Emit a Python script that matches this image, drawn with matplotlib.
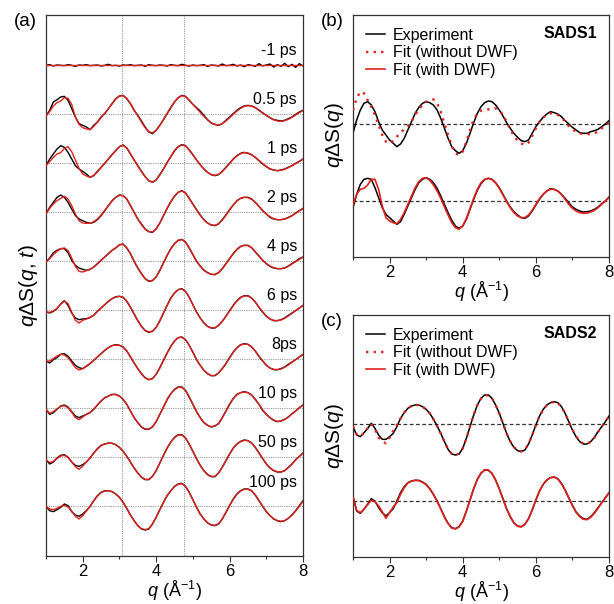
import numpy as np
import matplotlib
matplotlib.use("Agg")
import matplotlib.pyplot as plt
from matplotlib.ticker import MultipleLocator
import matplotlib.transforms as mtransforms

plt.rcParams['font.family'] = ['Liberation Sans', 'DejaVu Sans']
plt.rcParams['mathtext.fontset'] = 'custom'
plt.rcParams['mathtext.rm'] = 'Liberation Sans'
plt.rcParams['mathtext.it'] = 'Liberation Sans:italic'

# ---------------- data ----------------
q = np.round(np.arange(1.0, 8.001, 0.1), 1)

time_labels = ["-1 ps", "0.5 ps", "1 ps", "2 ps", "4 ps", "6 ps", "8ps", "10 ps", "50 ps", "100 ps"]

exp_m1 = [0, 2, -2, 1, 0, -1, 2, 0, -3, 1, 0, 2, -1, 0, 1, -2, 0, 3, -1, 0,
          -2, 1, 0, 2, -1, 0, 1, -3, 2, 0, -1, 1, 0, -2, 2, 0, -1, 3, 0, -2,
          1, -1, 0, 2, -3, 1, 0, -2, 4, -1, 0, 3, -2, 1, -4, 2, 0, -3, 5, -2,
          1, 4, -5, 2, -3, 6, -4, 3, -6, 5, -2]
fit_m1 = [0] * 71

exp_05 = [-5, 12, 37, 44, 52, 54, 42, 17, -8, -28,
          -33, -38, -46, -33, -23, -8, 2, 17, 32, 47,
          55, 57, 47, 32, 12, -3, -20, -38, -53, -58,
          -48, -33, -16, 2, 20, 37, 50, 57, 54, 42,
          30, 20, 10, -3, -16, -26, -30, -33, -28, -18,
          -8, 2, 12, 20, 25, 27, 25, 20, 12, 4,
          -3, -10, -16, -18, -20, -18, -13, -8, 0, 7, 12]
fit_05 = [-5, 8, 25, 35, 40, 50, 48, 30, -8, -30,
          -40, -44, -46, -36, -24, -10, 3, 17, 32, 46,
          55, 56, 48, 32, 13, -5, -23, -40, -52, -56,
          -48, -33, -15, 3, 21, 38, 50, 56, 53, 43,
          30, 18, 6, -6, -17, -26, -31, -32, -28, -20,
          -10, 0, 10, 18, 24, 26, 25, 20, 13, 5,
          -3, -10, -16, -20, -21, -19, -15, -9, -2, 5, 11]

exp_1 = [-7, 13, 28, 43, 53, 48, 33, 13, -7, -17,
         -24, -32, -42, -37, -24, -12, 0, 13, 26, 38,
         50, 55, 46, 28, 10, -7, -24, -40, -52, -57,
         -50, -34, -17, 3, 20, 38, 50, 56, 53, 40,
         26, 10, -4, -17, -27, -34, -37, -34, -24, -12,
         0, 13, 23, 30, 33, 30, 26, 18, 8, -2,
         -10, -17, -20, -22, -20, -17, -12, -7, 0, 6, 13]
fit_1 = [-7, 5, 18, 28, 32, 45, 50, 35, 10, -15,
         -32, -38, -42, -36, -26, -13, 0, 13, 26, 39,
         50, 54, 46, 29, 10, -8, -25, -40, -52, -56,
         -50, -35, -17, 2, 20, 37, 50, 55, 52, 41,
         26, 10, -4, -17, -27, -34, -36, -33, -25, -13,
         0, 12, 22, 29, 32, 31, 26, 18, 9, -1,
         -9, -16, -20, -22, -21, -18, -13, -7, -1, 6, 12]

exp_2 = [-5, 15, 30, 45, 52, 45, 30, 10, -10, -20,
         -25, -30, -33, -30, -22, -10, 5, 20, 35, 45,
         52, 50, 40, 20, 0, -20, -35, -50, -58, -60,
         -50, -32, -10, 12, 32, 48, 60, 65, 58, 42,
         25, 8, -8, -22, -32, -38, -40, -35, -22, -8,
         8, 22, 35, 42, 45, 45, 40, 30, 18, 5,
         -5, -15, -20, -22, -22, -20, -15, -10, -2, 5, 12]
fit_2 = [-5, 12, 25, 35, 42, 48, 40, 20, -5, -25,
         -32, -33, -33, -28, -20, -8, 6, 20, 34, 45,
         51, 50, 40, 21, 0, -20, -37, -51, -58, -59,
         -50, -32, -10, 12, 32, 49, 60, 64, 58, 42,
         24, 7, -9, -22, -32, -38, -39, -34, -23, -9,
         7, 22, 34, 42, 45, 44, 39, 30, 18, 6,
         -5, -13, -19, -22, -22, -20, -16, -10, -3, 4, 11]

exp_4 = [-2, 10, 26, 33, 38, 38, 26, 3, -12, -20,
         -24, -27, -24, -17, -7, 3, 13, 23, 33, 40,
         50, 52, 40, 23, 0, -20, -37, -52, -60, -58,
         -47, -27, -4, 18, 38, 53, 63, 66, 58, 40,
         20, 0, -14, -27, -34, -39, -40, -34, -22, -7,
         8, 23, 36, 45, 48, 48, 41, 28, 16, 3,
         -7, -15, -20, -22, -22, -20, -14, -7, 0, 8, 13]
fit_4 = [-2, 8, 20, 30, 38, 40, 32, 10, -15, -30,
         -32, -28, -24, -17, -8, 3, 13, 23, 33, 41,
         49, 51, 41, 23, 1, -20, -38, -52, -59, -57,
         -47, -28, -5, 18, 38, 53, 63, 65, 58, 41,
         21, 1, -14, -26, -34, -39, -39, -34, -23, -8,
         8, 23, 35, 44, 48, 47, 41, 29, 16, 4,
         -6, -14, -19, -22, -22, -20, -15, -8, -1, 6, 12]

exp_6 = [-5, -8, -3, 5, 19, 29, 15, -8, -23, -28,
         -26, -25, -21, -15, -3, 7, 17, 27, 35, 41,
         42, 39, 27, 9, -11, -31, -48, -61, -66, -63,
         -51, -31, -8, 15, 37, 52, 62, 65, 57, 39,
         17, -5, -23, -38, -48, -53, -53, -45, -33, -18,
         -1, 15, 29, 39, 44, 44, 37, 25, 9, -5,
         -18, -26, -31, -31, -28, -23, -15, -8, -1, 7, 15]
fit_6 = [-5, -6, -2, 6, 18, 28, 20, -5, -30, -38,
         -30, -26, -22, -14, -3, 7, 17, 27, 35, 40,
         42, 39, 28, 10, -11, -31, -48, -60, -65, -62,
         -51, -32, -8, 15, 36, 52, 62, 64, 57, 40,
         17, -5, -23, -38, -48, -53, -52, -45, -33, -18,
         -2, 14, 28, 38, 43, 43, 37, 25, 10, -4,
         -17, -26, -30, -31, -29, -24, -17, -9, -1, 7, 14]

exp_8 = [-5, -11, -1, 5, 15, 17, 9, -5, -18, -25,
         -28, -21, -13, -3, 7, 17, 27, 35, 41, 44,
         42, 37, 25, 7, -11, -28, -43, -55, -61, -58,
         -45, -25, -3, 19, 39, 55, 65, 67, 59, 42,
         22, -1, -18, -33, -43, -49, -49, -41, -28, -13,
         5, 22, 35, 44, 47, 45, 37, 25, 9, -5,
         -18, -26, -31, -31, -28, -23, -15, -8, -1, 7, 15]
fit_8 = [-5, -5, 2, 10, 15, 13, 5, -10, -25, -32,
         -28, -20, -12, -3, 7, 17, 27, 35, 41, 43,
         42, 37, 25, 8, -11, -28, -44, -56, -61, -58,
         -45, -26, -3, 19, 39, 55, 65, 66, 59, 42,
         21, -1, -18, -33, -43, -49, -48, -41, -28, -13,
         4, 21, 34, 43, 46, 45, 38, 25, 10, -4,
         -17, -26, -30, -31, -29, -24, -17, -9, -1, 7, 14]

exp_10 = [-3, -18, -13, -3, 7, 10, 4, -10, -23, -28,
          -23, -18, -13, -3, 10, 22, 32, 37, 42, 42,
          37, 27, 12, -8, -28, -43, -56, -63, -63, -56,
          -40, -18, 4, 27, 44, 57, 64, 64, 54, 34,
          12, -10, -28, -43, -51, -56, -53, -46, -28, -8,
          12, 30, 42, 47, 50, 47, 40, 27, 12, -6,
          -18, -28, -36, -40, -38, -33, -26, -16, -8, 2, 10]
fit_10 = [-3, -15, -10, -2, 6, 8, 2, -12, -28, -34,
          -26, -18, -12, -2, 10, 22, 31, 37, 41, 41,
          37, 27, 12, -8, -27, -43, -56, -62, -62, -55,
          -40, -18, 4, 26, 44, 56, 63, 63, 54, 35,
          12, -10, -28, -42, -51, -55, -53, -45, -29, -9,
          11, 29, 41, 47, 49, 47, 40, 27, 12, -4,
          -18, -28, -35, -39, -38, -34, -26, -17, -8, 1, 10]

exp_50 = [-7, -20, -14, -2, 6, 8, 0, -14, -24, -27,
          -22, -14, -2, 13, 26, 36, 40, 43, 42, 38,
          30, 18, 3, -14, -32, -47, -60, -67, -67, -57,
          -40, -17, 6, 28, 46, 60, 68, 68, 58, 40,
          18, -4, -24, -40, -52, -58, -58, -47, -30, -10,
          10, 28, 40, 48, 52, 50, 43, 30, 13, -4,
          -20, -32, -40, -44, -44, -40, -30, -20, -7, 3, 13]
fit_50 = [-7, -16, -12, -4, 4, 6, 0, -14, -28, -36,
          -26, -14, -2, 12, 25, 35, 40, 42, 42, 38,
          30, 18, 3, -14, -32, -47, -59, -66, -66, -57,
          -40, -17, 6, 28, 46, 59, 67, 67, 58, 40,
          18, -4, -24, -40, -51, -57, -57, -47, -30, -10,
          10, 27, 40, 47, 51, 50, 43, 30, 14, -3,
          -19, -31, -39, -43, -44, -40, -31, -20, -8, 3, 12]

exp_100 = [0, -13, -16, -10, -3, 7, 2, -16, -26, -30,
           -23, -13, 0, 17, 32, 42, 47, 47, 44, 37,
           27, 12, -6, -26, -43, -58, -68, -71, -68, -53,
           -33, -10, 12, 32, 47, 60, 67, 69, 60, 42,
           20, -3, -23, -38, -50, -56, -58, -53, -38, -18,
           2, 22, 37, 47, 52, 52, 47, 34, 17, 0,
           -16, -28, -38, -43, -46, -43, -36, -26, -13, 2, 17]
fit_100 = [0, -8, -10, -6, 0, 3, -2, -14, -30, -38,
           -28, -14, 0, 16, 31, 41, 46, 47, 44, 37,
           27, 12, -6, -26, -43, -58, -67, -70, -67, -53,
           -33, -10, 12, 32, 47, 59, 66, 68, 60, 42,
           20, -3, -23, -38, -49, -56, -57, -52, -38, -19,
           2, 21, 36, 46, 51, 51, 46, 34, 18, 1,
           -15, -28, -37, -43, -45, -43, -36, -26, -14, 0, 15]

exp_series = [exp_m1, exp_05, exp_1, exp_2, exp_4, exp_6, exp_8, exp_10, exp_50, exp_100]
fit_series = [fit_m1, fit_05, fit_1, fit_2, fit_4, fit_6, fit_8, fit_10, fit_50, fit_100]

# SADS1 (panel b)
sads1_exp_top = [-27, 13, 43, 63, 68, 58, 38, 8, -17, -32,
                 -47, -57, -67, -59, -42, -17, 8, 33, 51, 63,
                 68, 65, 58, 43, 18, -12, -42, -67, -79, -87,
                 -79, -57, -27, 5, 33, 53, 65, 70, 68, 58,
                 43, 25, 5, -12, -27, -39, -49, -52, -47, -27,
                 -7, 8, 21, 31, 38, 35, 31, 23, 11, 1,
                 -9, -17, -25, -27, -27, -22, -19, -15, -7, 1, 11]
sads1_fit_noDWF = [43, 78, 98, 93, 73, 53, 28, -2, -32, -52,
                   -57, -49, -37, -25, -15, -5, 8, 28, 45, 58,
                   68, 73, 75, 63, 38, 3, -32, -65, -87, -92,
                   -82, -52, -17, 15, 33, 41, 43, 45, 45, 48,
                   43, 28, 8, -15, -35, -49, -57, -62, -55, -35,
                   -12, 8, 21, 28, 33, 33, 28, 21, 8, -5,
                   -15, -22, -27, -29, -30, -29, -27, -22, -12, -5, 5]
sads1_exp_bot = [-20, 20, 50, 65, 68, 65, 40, 10, -20, -40,
                 -50, -60, -70, -62, -40, -15, 10, 35, 55, 65,
                 70, 65, 55, 38, 15, -10, -35, -58, -75, -82,
                 -75, -55, -25, 5, 32, 52, 64, 68, 65, 55,
                 40, 20, 0, -18, -32, -42, -50, -52, -45, -30,
                 -12, 5, 20, 30, 37, 35, 30, 20, 8, -5,
                 -18, -25, -30, -33, -32, -30, -25, -18, -8, 0, 12]
sads1_fit_DWF = [-10, 20, 35, 38, 48, 65, 65, 35, -15, -50,
                 -60, -65, -68, -55, -35, -10, 15, 40, 58, 68,
                 70, 62, 48, 30, 8, -18, -42, -65, -80, -85,
                 -75, -52, -22, 8, 35, 55, 65, 68, 64, 54,
                 38, 18, -2, -20, -35, -45, -50, -50, -42, -28,
                 -10, 7, 20, 30, 35, 35, 30, 20, 5, -10,
                 -22, -30, -35, -37, -36, -33, -28, -20, -10, 0, 10]

# SADS2 (panel c)
sads2_exp_top = [-7, -32, -37, -25, -12, 3, -12, -32, -45, -45,
                 -37, -27, -7, 18, 35, 48, 55, 58, 58, 53,
                 45, 33, 15, -5, -27, -52, -75, -89, -92, -89,
                 -72, -42, -7, 28, 58, 78, 88, 88, 78, 58,
                 33, 3, -27, -52, -69, -79, -82, -77, -59, -32,
                 -2, 25, 45, 58, 65, 68, 65, 53, 33, 8,
                 -17, -37, -52, -59, -59, -52, -39, -22, -7, 8, 25]
sads2_fit_noDWF = [-5, -30, -36, -26, -12, 2, -15, -40, -50, -57,
                   -40, -20, -2, 18, 35, 48, 55, 58, 58, 53,
                   45, 33, 15, -5, -27, -52, -74, -88, -91, -88,
                   -72, -42, -7, 28, 57, 77, 87, 87, 78, 58,
                   33, 3, -27, -51, -68, -78, -81, -76, -59, -32,
                   -3, 24, 44, 57, 65, 67, 64, 53, 33, 9,
                   -16, -36, -51, -58, -58, -52, -40, -23, -7, 8, 24]
sads2_exp_bot = [15, -30, -37, -25, -10, 7, 0, -20, -35, -45,
                 -35, -23, 0, 25, 43, 55, 60, 62, 62, 57,
                 50, 37, 20, 0, -23, -47, -67, -80, -83, -77,
                 -60, -30, 3, 37, 65, 83, 93, 92, 83, 63,
                 37, 7, -23, -47, -65, -75, -77, -70, -53, -27,
                 3, 30, 50, 63, 70, 72, 67, 53, 33, 10,
                 -13, -33, -45, -53, -55, -47, -35, -20, -5, 10, 25]
sads2_fit_DWF = [10, -28, -35, -25, -10, 2, -2, -15, -32, -52,
                 -35, -18, -5, 20, 40, 54, 60, 62, 61, 56,
                 49, 36, 19, -1, -24, -48, -68, -81, -84, -78,
                 -61, -31, 3, 37, 65, 84, 94, 93, 83, 62,
                 36, 6, -24, -48, -66, -76, -78, -70, -53, -27,
                 3, 30, 50, 63, 70, 72, 66, 52, 32, 9,
                 -14, -34, -47, -55, -56, -49, -37, -22, -6, 9, 24]

x_ticks = [2, 4, 6, 8]
guide_q = [3.07, 4.76]

# ---------------- style / layout ----------------
RED = '#e3201b'
GRID = '#9a9a9a'
SPINE = '#333333'
step_a = 147
step_bc = 230

fig = plt.figure(figsize=(6.14, 6.04), dpi=100)
W, H = 614, 604


def add_axes(l, t, r, b):
    return fig.add_axes([l / W, 1 - b / H, (r - l) / W, (b - t) / H])


def style_axis(ax):
    ax.set_xlim(1, 8)
    ax.set_xticks(x_ticks)
    ax.xaxis.set_minor_locator(MultipleLocator(1))
    ax.set_yticks([])
    ax.tick_params(axis='x', which='major', direction='out', length=4, width=0.8,
                   labelsize=12, pad=2, color=SPINE)
    ax.tick_params(axis='x', which='minor', direction='out', length=2.5, width=0.8, color=SPINE)
    for s in ax.spines.values():
        s.set_color(SPINE)
        s.set_linewidth(0.9)
    ax.set_xlabel(r'$q$ (Å$^{-1}$)', fontsize=13, labelpad=0)


# Panel (a)
axa = add_axes(46, 15, 303, 556)
style_axis(axa)
axa.set_ylim(-1472, 151)
for gq in guide_q:
    axa.axvline(gq, color=GRID, lw=0.8, ls=(0, (1, 1)), zorder=1)
trans = mtransforms.blended_transform_factory(axa.transAxes, axa.transData)
for i, (lab, e, f) in enumerate(zip(time_labels, exp_series, fit_series)):
    off = -i * step_a
    axa.axhline(off, color=GRID, lw=0.8, ls=(0, (1, 1)), zorder=1)
    axa.plot(q, np.array(e) + off, color='black', lw=1.0, zorder=2)
    axa.plot(q, np.array(f) + off, color=RED, lw=1.0, zorder=3)
    dy = 72 if lab == "100 ps" else 45
    axa.text(0.977, off + dy, lab, transform=trans, ha='right', va='center', fontsize=11.5)


def panel_bc(ax, exp_top, fit_nodwf, exp_bot, fit_dwf, title):
    style_axis(ax)
    ax.set_ylim(-398, 328)
    for off in (0, -step_bc):
        ax.axhline(off, color='#333333', lw=0.9, ls=(0, (3, 2)), zorder=1)
    ax.plot(q, np.array(exp_top), color='black', lw=1.1, label='Experiment', zorder=2)
    ax.plot(q, np.array(fit_nodwf), color=RED, lw=1.7, ls=(0, (1, 2.2)),
            label='Fit (without DWF)', zorder=3)
    ax.plot(q, np.array(exp_bot) - step_bc, color='black', lw=1.1, zorder=2)
    ax.plot(q, np.array(fit_dwf) - step_bc, color=RED, lw=1.2, label='Fit (with DWF)', zorder=3)
    ax.legend(loc='upper left', bbox_to_anchor=(0.0, 1.0), frameon=False, fontsize=11.5,
              handlelength=1.2, handletextpad=0.5, labelspacing=0.15, borderaxespad=0.35,
              borderpad=0.45)
    ax.text(0.955, 0.925, title, transform=ax.transAxes, ha='right', va='center',
            fontsize=11.5, fontweight='bold')


axb = add_axes(353, 15, 609, 257)
panel_bc(axb, sads1_exp_top, sads1_fit_noDWF, sads1_exp_bot, sads1_fit_DWF, 'SADS1')
axc = add_axes(353, 315, 609, 557)
panel_bc(axc, sads2_exp_top, sads2_fit_noDWF, sads2_exp_bot, sads2_fit_DWF, 'SADS2')

# labels
fig.text(25 / W, 1 - 22 / H, '(a)', fontsize=13.5, ha='center', va='center')
fig.text(332 / W, 1 - 22 / H, '(b)', fontsize=13.5, ha='center', va='center')
fig.text(332 / W, 1 - 322 / H, '(c)', fontsize=13.5, ha='center', va='center')
fig.text(29 / W, 1 - 285 / H, r'$q$ΔS($q$, $t$)', fontsize=15, rotation=90, ha='center', va='center')
fig.text(334 / W, 1 - 135 / H, r'$q$ΔS($q$)', fontsize=15, rotation=90, ha='center', va='center')
fig.text(334 / W, 1 - 436 / H, r'$q$ΔS($q$)', fontsize=15, rotation=90, ha='center', va='center')

fig.savefig('out.png', dpi=100)
